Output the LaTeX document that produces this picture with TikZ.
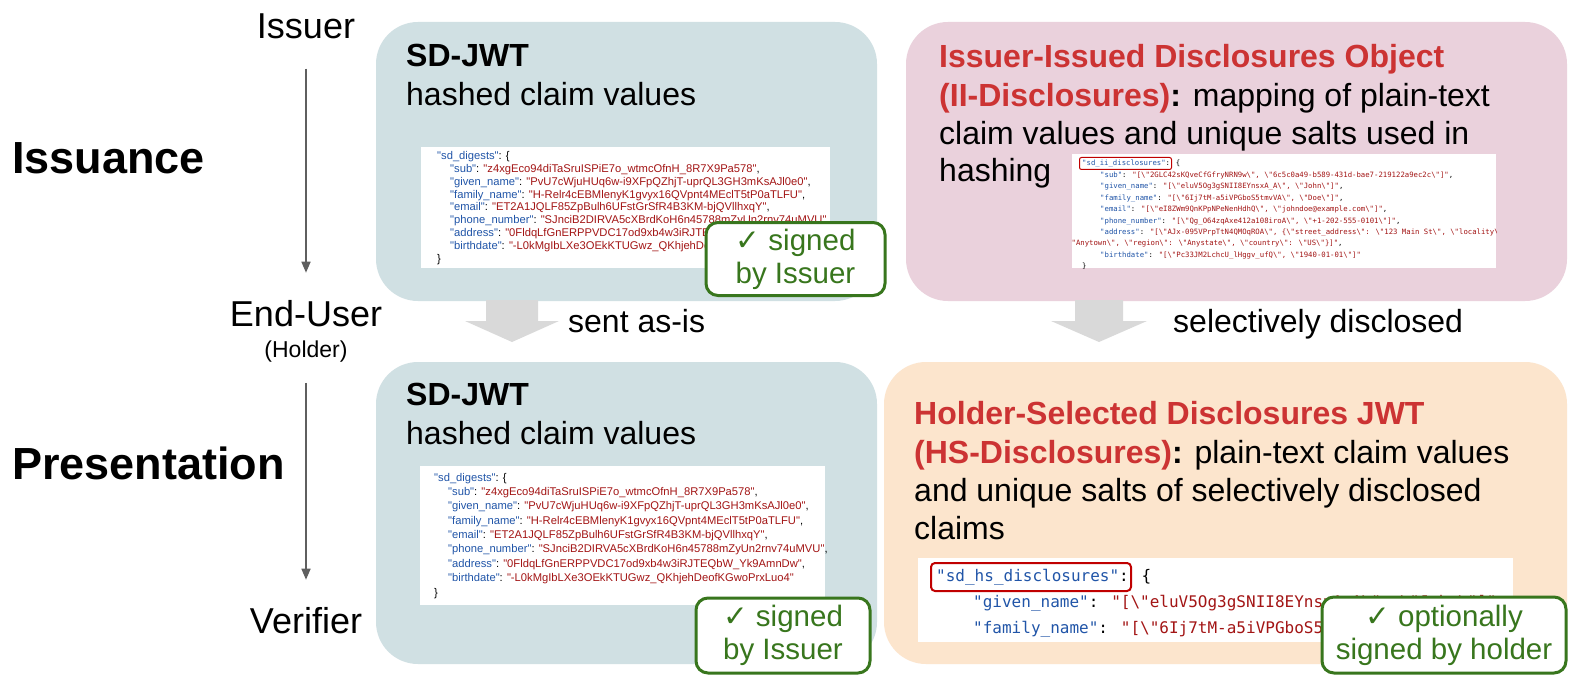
\documentclass[tikz,border=0pt]{standalone}
\usepackage{fontspec}
\setmainfont{Liberation Sans}
\newfontfamily\monof{DejaVu Sans Mono}
\newfontfamily\codef{Liberation Sans}
\newfontfamily\symf{DejaVu Sans}
\usetikzlibrary{arrows.meta}
\definecolor{boxblue}{HTML}{D0E0E3}
\definecolor{boxpink}{HTML}{EAD1DC}
\definecolor{boxpeach}{HTML}{FCE5CD}
\definecolor{garrow}{HTML}{D9D9D9}
\definecolor{tarrow}{HTML}{5F5F5F}
\definecolor{sgreen}{HTML}{38761D}
\definecolor{tred}{HTML}{CC3333}
\definecolor{ckey}{HTML}{2155A8}
\definecolor{cval}{HTML}{A31515}
\definecolor{crect}{HTML}{C00000}
\newcommand\K[1]{\textcolor{ckey}{#1}}
\newcommand\V[1]{\textcolor{cval}{#1}}
\newcommand\bq{\textbackslash"}
\newcommand\sdlines[5]{%
\node[cline] (#5a) at (#1,#3) {\K{"sd\_digests"}: \{};
\node[cline] (#5b) at (#2,#3+#4) {\K{"sub"}: \V{"z4xgEco94diTaSruISPiE7o\_wtmcOfnH\_8R7X9Pa578"},};
\node[cline] (#5c) at (#2,#3+2*#4) {\K{"given\_name"}: \V{"PvU7cWjuHUq6w-i9XFpQZhjT-uprQL3GH3mKsAJl0e0"},};
\node[cline] (#5d) at (#2,#3+3*#4) {\K{"family\_name"}: \V{"H-Relr4cEBMlenyK1gvyx16QVpnt4MEclT5tP0aTLFU"},};
\node[cline] (#5e) at (#2,#3+4*#4) {\K{"email"}: \V{"ET2A1JQLF85ZpBulh6UFstGrSfR4B3KM-bjQVllhxqY"},};
\node[cline] (#5f) at (#2,#3+5*#4) {\K{"phone\_number"}: \V{"SJnciB2DIRVA5cXBrdKoH6n45788mZyUn2rnv74uMVU"},};
\node[cline] (#5g) at (#2,#3+6*#4) {\K{"address"}: \V{"0FldqLfGnERPPVDC17od9xb4w3iRJTEQbW\_Yk9AmnDw"},};
\node[cline] (#5h) at (#2,#3+7*#4) {\K{"birthdate"}: \V{"-L0kMgIbLXe3OEkKTUGwz\_QKhjehDeofKGwoPrxLuo4"}};
\node[cline] (#5i) at (#1,#3+8*#4) {\}};
}
\begin{document}
\begin{tikzpicture}[x=1pt,y=-1pt,
  panel/.style={rectangle, rounded corners=42pt, inner sep=0pt, draw=none},
  codebox/.style={rectangle, fill=white, inner sep=0pt, draw=none},
  lbl/.style={anchor=base, inner sep=0pt, font=\fontsize{36}{40}\selectfont},
  phase/.style={anchor=base west, inner sep=0pt, font=\bfseries\fontsize{45}{50}\selectfont},
  ttl/.style={anchor=base west, inner sep=0pt, font=\fontsize{32}{38}\selectfont},
  cline/.style={anchor=base west, inner sep=0pt, font=\codef\fontsize{11.2}{12}\selectfont},
  mline/.style={anchor=base west, inner sep=0pt, font=\monof\fontsize{7.3}{8}\selectfont},
  bline/.style={anchor=base west, inner sep=0pt, font=\monof\fontsize{16}{18}\selectfont},
  badge/.style={rectangle, draw=sgreen, line width=3pt, fill=white, rounded corners=12pt,
     text=sgreen, align=center, inner sep=0pt, font=\fontsize{29.5}{33}\selectfont},
  redrect/.style={draw=crect, rounded corners=2pt},
  thinarr/.style={draw=tarrow, line width=1.6pt, -{Triangle[length=11pt,width=9pt]}},
  blockarr/.style={fill=garrow, draw=none}
]
\fill[white] (0,0) rectangle (1575,682);
\useasboundingbox (0,0) rectangle (1575,682);

% ---------- left column ----------
\node[lbl] (issuer) at (306,39) {Issuer};
\node[lbl] (enduser) at (306,326) {End-User};
\node[lbl, font=\fontsize{23}{26}\selectfont] (holder) at (306,357) {(Holder)};
\node[lbl] (verifier) at (306,633) {Verifier};
\node[phase] (issuance) at (12,174) {Issuance};
\node[phase] (presentation) at (12,479) {Presentation};
\draw[thinarr, shorten <=29pt, shorten >=27pt] (issuer.south) -- (enduser.north);
\draw[thinarr, shorten <=21pt, shorten >=27pt] (holder.south) -- (verifier.north);

% ---------- panels ----------
\node[panel, fill=boxblue, minimum width=501pt, minimum height=279pt] (tl) at (626.5,161.5) {};
\node[panel, fill=boxpink, minimum width=661pt, minimum height=279pt] (tr) at (1236.5,161.5) {};
\node[panel, fill=boxblue, minimum width=501pt, minimum height=302pt] (bl) at (626.5,513) {};
\node[panel, fill=boxpeach, minimum width=683pt, minimum height=302pt] (br) at (1225.5,513) {};

% ---------- top-left ----------
\node[ttl, font=\bfseries\fontsize{32}{38}\selectfont] (tlt1) at (406,67) {SD-JWT};
\node[ttl] (tlt2) at (406,106) {hashed claim values};
\node[codebox, minimum width=409pt, minimum height=121pt] (tlcode) at (625.5,207.5) {};
\sdlines{437}{450}{160}{12.75}{tlc}

% ---------- bottom-left ----------
\node[ttl, font=\bfseries\fontsize{32}{38}\selectfont] (blt1) at (406,405) {SD-JWT};
\node[ttl] (blt2) at (406,444) {hashed claim values};
\node[codebox, minimum width=405pt, minimum height=139pt] (blcode) at (622.5,535.5) {};
\sdlines{434}{448}{481}{14.375}{blc}

% ---------- top-right ----------
\node[ttl] (trt1) at (939,68) {\textbf{\textcolor{tred}{Issuer-Issued Disclosures Object}}};
\node[ttl] (trt2) at (939,107) {\textbf{\textcolor{tred}{(II-Disclosures)}:} mapping of plain-text};
\node[ttl] (trt3) at (939,145) {claim values and unique salts used in};
\node[ttl] (trt4) at (939,182) {hashing};
\node[codebox, minimum width=424pt, minimum height=114pt] (trcode) at (1284,211) {};
\begin{scope}
\clip (trcode.north west) rectangle (trcode.south east);
\node[mline] (trc0) at (1082,166) {\K{"sd\_ii\_disclosures"}: \{};
\node[mline] (trc1) at (1100,177.4) {\K{"sub"}: \V{"[\bq 2GLC42sKQveCfGfryNRN9w\bq, \bq 6c5c0a49-b589-431d-bae7-219122a9ec2c\bq]"},};
\node[mline] (trc2) at (1100,188.8) {\K{"given\_name"}: \V{"[\bq eluV5Og3gSNII8EYnsxA\_A\bq, \bq John\bq]"},};
\node[mline] (trc3) at (1100,200.2) {\K{"family\_name"}: \V{"[\bq 6Ij7tM-a5iVPGboS5tmvVA\bq, \bq Doe\bq]"},};
\node[mline] (trc4) at (1100,211.6) {\K{"email"}: \V{"[\bq eI8ZWm9QnKPpNPeNenHdhQ\bq, \bq johndoe@example.com\bq]"},};
\node[mline] (trc5) at (1100,223) {\K{"phone\_number"}: \V{"[\bq Qg\_O64zqAxe412a108iroA\bq, \bq +1-202-555-0101\bq]"},};
\node[mline] (trc6) at (1100,234.4) {\K{"address"}: \V{"[\bq AJx-095VPrpTtN4QMOqROA\bq, \{\bq street\_address\bq: \bq 123 Main St\bq, \bq locality\bq:}};
\node[mline] (trc7) at (1067,245.8) {\V{\bq Anytown\bq, \bq region\bq: \bq Anystate\bq, \bq country\bq: \bq US\bq\}]"},};
\node[mline] (trc8) at (1100,257.2) {\K{"birthdate"}: \V{"[\bq Pc33JM2LchcU\_lHggv\_ufQ\bq, \bq 1940-01-01\bq]"}};
\node[mline] (trc9) at (1082,268.6) {\}};
\end{scope}
\draw[redrect, line width=1pt] (1079.5,157.5) rectangle (1171.5,169.5);

% ---------- bottom-right ----------
\node[ttl] (brt1) at (914,424) {\textbf{\textcolor{tred}{Holder-Selected Disclosures JWT}}};
\node[ttl] (brt2) at (914,463) {\textbf{\textcolor{tred}{(HS-Disclosures)}:} plain-text claim values};
\node[ttl] (brt3) at (914,501) {and unique salts of selectively disclosed};
\node[ttl] (brt4) at (914,539) {claims};
\node[codebox, minimum width=595pt, minimum height=84pt] (brcode) at (1215.5,600) {};
\begin{scope}
\clip (brcode.north west) rectangle (brcode.south east);
\node[bline] (brc0) at (936,581) {\K{"sd\_hs\_disclosures"}: \{};
\node[bline] (brc1) at (973,607) {\K{"given\_name"}: \V{"[\bq eluV5Og3gSNII8EYnsxA\_A\bq, \bq John\bq]"},};
\node[bline] (brc2) at (973,633) {\K{"family\_name"}: \V{"[\bq 6Ij7tM-a5iVPGboS5tmvVA\bq, \bq Doe\bq]"},};
\end{scope}
\draw[redrect, line width=2pt, rounded corners=4pt] (931,563) rectangle (1131,591);

% ---------- block arrows ----------
\fill[blockarr] (486,300) -- (538,300) -- (538,321) -- (559,321) -- (512,342) -- (465,321) -- (486,321) -- cycle;
\fill[blockarr] (1075,300) -- (1123,300) -- (1123,321) -- (1147,321) -- (1099,342) -- (1051,321) -- (1075,321) -- cycle;
\node[ttl] (sent) at (568,332) {sent as-is};
\node[ttl] (sel) at (1173,332) {selectively disclosed};

% ---------- badges ----------
\node[badge, minimum width=179pt, minimum height=73pt] (tlbadge) at (795.5,259) {{\symf ✓} signed\\by Issuer};
\node[badge, minimum width=174pt, minimum height=75pt] (blbadge) at (783,635.5) {{\symf ✓} signed\\by Issuer};
\node[badge, minimum width=244pt, minimum height=76pt] (brbadge) at (1444,635) {{\symf ✓} optionally\\signed by holder};
\end{tikzpicture}
\end{document}
